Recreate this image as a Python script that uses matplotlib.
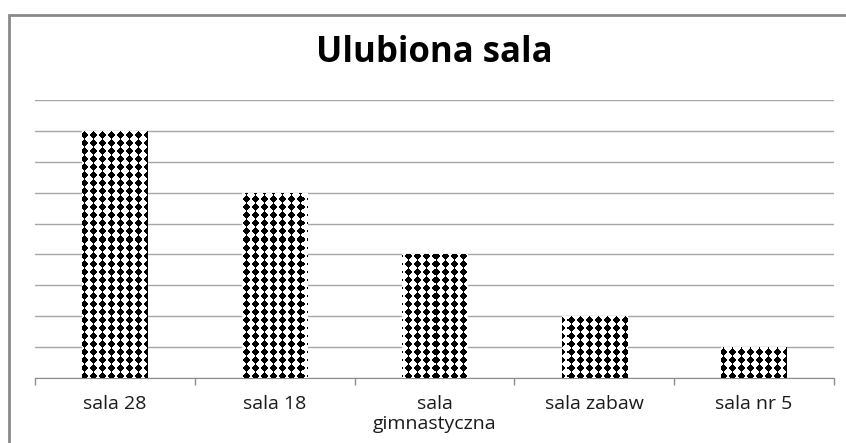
import numpy as np
import matplotlib
matplotlib.use("Agg")
import matplotlib.pyplot as plt
from matplotlib.patches import Rectangle

# data
categories = ['sala 28', 'sala 18', 'sala\ngimnastyczna', 'sala zabaw', 'sala nr 5']
votes = [8, 6, 4, 2, 1]
y_max = 9

plt.rcParams['font.family'] = ['Open Sans', 'DejaVu Sans']

W, H = 846, 443
fig = plt.figure(figsize=(W / 100, H / 100), dpi=100)
left, right, bottom, top = 35 / W, 834 / W, 1 - 378 / H, 1 - 100 / H
ax = fig.add_axes([left, bottom, right - left, top - bottom])

x = np.arange(len(categories))
bars = ax.bar(x, votes, width=0.41, color='white', edgecolor='none', zorder=2)

# diamond texture, one pixel per image cell
pw, ph = int(round((right - left) * W)), int(round((top - bottom) * H))
xx, yy = np.meshgrid(np.arange(pw), np.arange(ph))
dx = np.abs((xx % 9) - 4.0) / 4.5
dy = np.abs((yy % 8) - 3.5) / 4.0
dark = (dx + dy) < 0.92
tex = np.ones((ph, pw, 3))
tex[dark] = 0.0
for b in bars:
    im = ax.imshow(tex, extent=(0, 1, 0, 1), transform=ax.transAxes,
                   interpolation='nearest', aspect='auto', zorder=3)
    im.set_clip_path(b)

ax.set_xlim(-0.5, len(categories) - 0.5)
ax.set_ylim(0, y_max)
ax.set_yticks(range(0, y_max + 1))
ax.yaxis.grid(True, color='#a6a6a6', linewidth=1.0)
ax.set_axisbelow(True)
ax.tick_params(axis='y', left=False, labelleft=False)

ax.set_xticks(x)
ax.set_xticklabels(categories, fontsize=14, color='#1a1a1a', linespacing=1.2)
ax.set_xticks(np.arange(-0.5, len(categories)), minor=True)
ax.tick_params(axis='x', which='major', length=0, pad=12)
ax.tick_params(axis='x', which='minor', length=5, color='#8c8c8c', width=1)

for s in ['top', 'right', 'left']:
    ax.spines[s].set_visible(False)
ax.spines['bottom'].set_color('#8c8c8c')

fig.text(434 / W, 1 - 53 / H, 'Ulubiona sala', ha='center', va='center',
         fontsize=25, fontweight='bold', color='black')

# outer chart border (cut off at right and bottom)
fig.add_artist(Rectangle((8.5 / W, -0.1), 2, 1 - 14.5 / H + 0.1,
                         transform=fig.transFigure, fill=False,
                         edgecolor='#8a8a8a', linewidth=2))

fig.savefig('out.png', dpi=100)
